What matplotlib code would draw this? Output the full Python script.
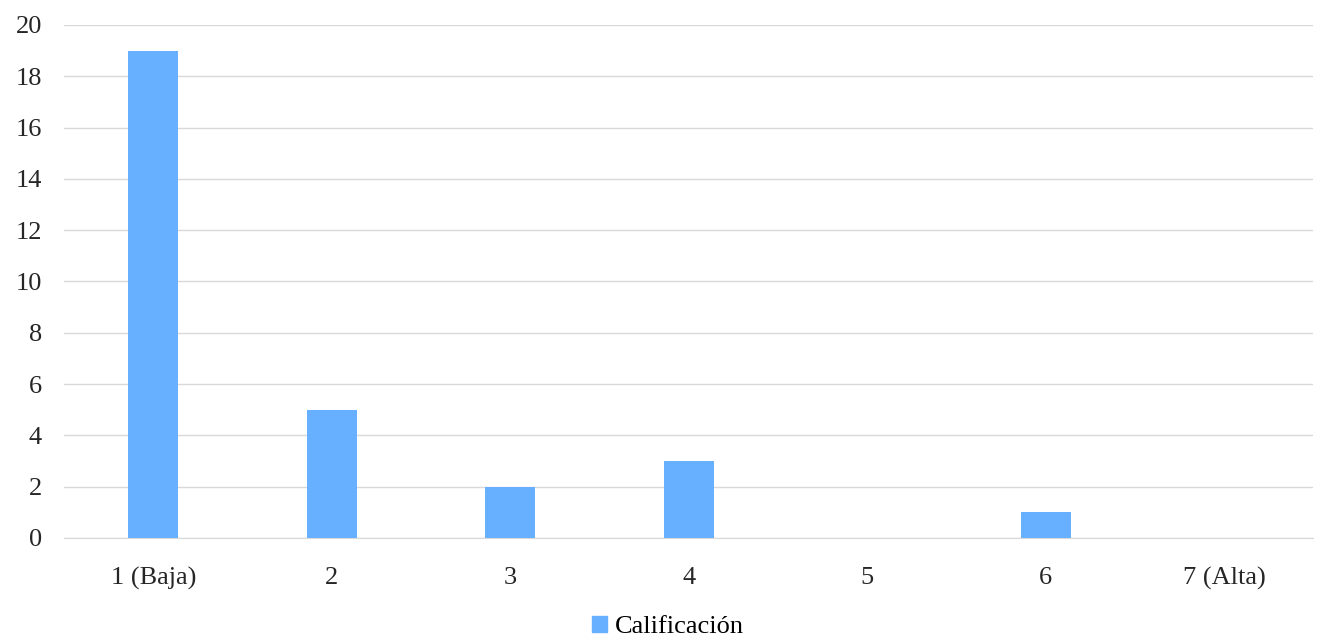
import matplotlib
matplotlib.use("Agg")
import matplotlib.pyplot as plt
from matplotlib.patches import Patch

categories = ["1 (Baja)", "2", "3", "4", "5", "6", "7 (Alta)"]
values = [19, 5, 2, 3, 0, 1, 0]
series_name = "Calificación"
yticks = [0, 2, 4, 6, 8, 10, 12, 14, 16, 18, 20]

plt.rcParams['font.family'] = ['Liberation Serif', 'DejaVu Serif']
color = "#66B0FF"

fig = plt.figure(figsize=(13.2, 6.41), dpi=100)
ax = fig.add_axes([0.0485, 0.1607, 0.9465, 0.8003])
x = list(range(len(categories)))
ax.bar(x, values, width=0.28, color=color, zorder=3)
ax.set_xlim(-0.5, len(categories) - 0.5)
ax.set_ylim(0, 20)
ax.set_yticks(yticks)
ax.set_xticks(x)
ax.set_xticklabels(categories)
ax.grid(axis='y', color='#D9D9D9', linewidth=1, zorder=0)
for s in ['top', 'right', 'left']:
    ax.spines[s].set_visible(False)
ax.spines['bottom'].set_color('#D9D9D9')
ax.tick_params(axis='both', length=0, labelsize=19, colors='#262626')
ax.tick_params(axis='x', pad=21)
ax.tick_params(axis='y', pad=16)

fig.legend(handles=[Patch(color=color, label=series_name)], loc='center',
           bbox_to_anchor=(0.506, 0.022), frameon=False, fontsize=19,
           handlelength=0.6, handleheight=0.6, handletextpad=0.3)
fig.savefig("out.png", dpi=100)
